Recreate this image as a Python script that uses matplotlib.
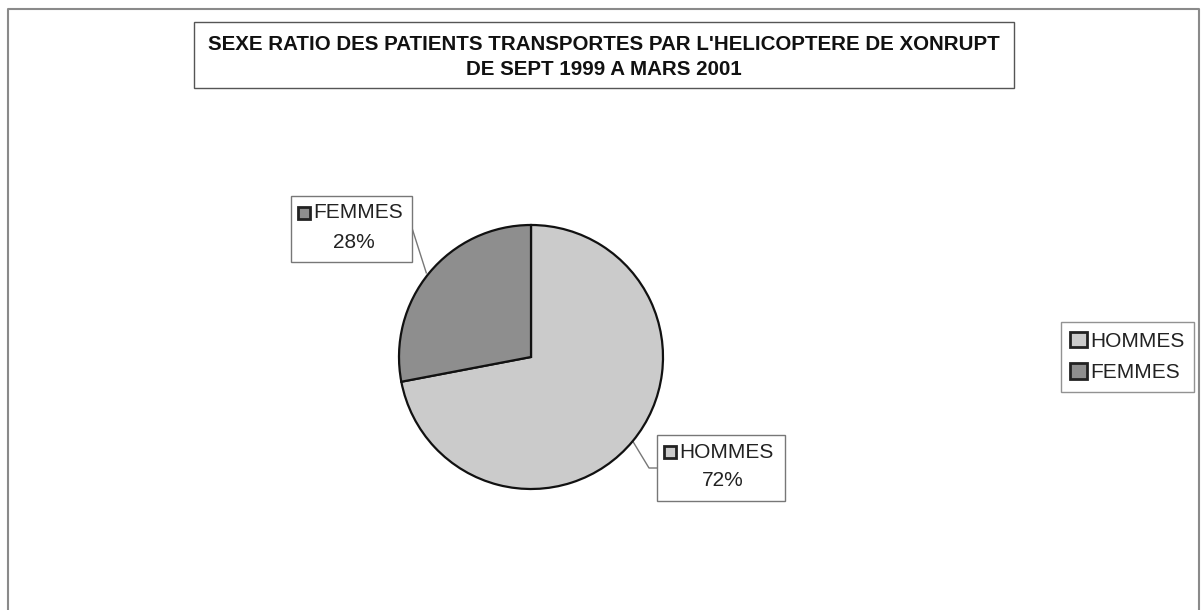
import numpy as np
import matplotlib
matplotlib.use('Agg')
import matplotlib.pyplot as plt
from matplotlib.patches import Rectangle, Patch

plt.rcParams['font.family'] = ['Liberation Sans', 'DejaVu Sans']

labels = ['HOMMES', 'FEMMES']
values = [72, 28]
colors = ['#cbcbcb', '#8e8e8e']
title = "SEXE RATIO DES PATIENTS TRANSPORTES PAR L'HELICOPTERE DE XONRUPT\nDE SEPT 1999 A MARS 2001"

W, H = 1201, 610
fig = plt.figure(figsize=(W / 100, H / 100), dpi=100)

# background axes in pixel coordinates for frames and leader lines
bg = fig.add_axes([0, 0, 1, 1])
bg.set_xlim(0, W)
bg.set_ylim(H, 0)
bg.axis('off')

# outer chart frame
bg.plot([8, 8, 1199, 1199], [H + 5, 9, 9, H + 5], color='#8a8a8a', lw=1.5)

# title box
bg.add_patch(Rectangle((194, 22), 820, 66, fill=False, ec='#555555', lw=1))
bg.text(604, 57, title, ha='center', va='center', fontsize=14.8,
        fontweight='bold', linespacing=1.38, color='#111111')

# pie
cx, cy, r = 531, 357, 132
pax = fig.add_axes([(cx - r) / W, (H - cy - r) / H, 2 * r / W, 2 * r / H])
wedges, _ = pax.pie(values, colors=colors, startangle=90, counterclock=False,
                    wedgeprops=dict(edgecolor='#111111', linewidth=1.6))
pax.set_xlim(-1, 1)
pax.set_ylim(-1, 1)
pax.set_aspect('equal')
pax.patch.set_alpha(0)

# data labels with boxes
boxes = {
    'FEMMES': (291, 196, 121, 66),
    'HOMMES': (657, 435, 128, 66),
}
for w, lab, val in zip(wedges, labels, values):
    bx, by, bw, bh = boxes[lab]
    bg.add_patch(Rectangle((bx, by), bw, bh, fill=True, fc='white', ec='#777777', lw=1, zorder=3))
    tx = bx + bw / 2 + 6
    bg.add_patch(Rectangle((bx + 7, by + 11), 12, 12, fc=w.get_facecolor(), ec='#222222', lw=2, zorder=4))
    bg.text(bx + 22, by + 17, lab, ha='left', va='center', fontsize=15, color='#222222', zorder=4)
    bg.text(tx - 4, by + 46, '%d%%' % val, ha='center', va='center', fontsize=15, color='#222222', zorder=4)
    ang = np.deg2rad((w.theta1 + w.theta2) / 2)
    px, py = cx + r * np.cos(ang), cy - r * np.sin(ang)
    if lab == 'FEMMES':
        bg.plot([px - 3, bx + bw], [py, by + 32], color='#777777', lw=1, zorder=2)
    else:
        bg.plot([px, bx - 8, bx], [py, by + 33, by + 33], color='#777777', lw=1, zorder=2)

# legend
handles = [Patch(fc=c, ec='#222222', lw=2) for c in colors]
leg = fig.legend(handles, labels, loc='center', bbox_to_anchor=(1127.5 / W, 1 - 357 / H),
                 fontsize=15, frameon=True, fancybox=False, handlelength=0.8, handleheight=0.8,
                 handletextpad=0.2, borderpad=0.45, labelspacing=0.6)
leg.get_frame().set_edgecolor('#777777')
leg.get_frame().set_linewidth(1)
for t in leg.get_texts():
    t.set_color('#222222')

fig.savefig('out.png', dpi=100)
